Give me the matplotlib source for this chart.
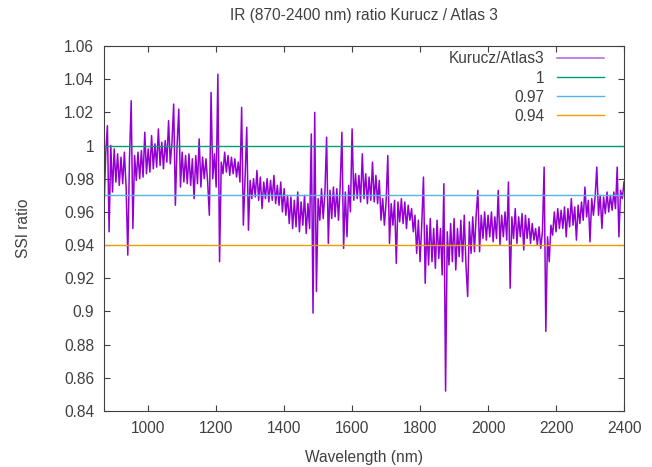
import numpy as np
import matplotlib
matplotlib.use("Agg")
import matplotlib.pyplot as plt

# ratio Kurucz / Atlas3, every 5 nm from 870 to 2400 nm
ratio = [
    0.962, 0.995, 1.012, 0.948, 1.000, 0.972, 0.998, 0.978, 0.995, 0.976,
    0.993, 0.977, 0.996, 0.975, 0.934, 0.992, 1.027, 0.950, 0.994, 0.979,
    0.996, 0.980, 0.997, 0.981, 1.008, 0.983, 0.998, 0.984, 1.006, 0.986,
    1.001, 0.987, 1.010, 0.988, 1.002, 0.986, 1.003, 0.990, 1.015, 0.989,
    1.002, 1.025, 0.964, 1.000, 1.022, 0.975, 0.996, 0.978, 0.994, 0.977,
    0.995, 0.976, 0.992, 0.968, 0.994, 0.977, 1.004, 0.975, 0.993, 0.980,
    0.992, 0.978, 0.958, 1.032, 0.980, 0.995, 0.975, 1.043, 0.930, 0.990,
    0.983, 0.996, 0.984, 0.994, 0.982, 0.993, 0.983, 0.992, 0.981, 0.990,
    0.978, 1.023, 0.952, 0.980, 1.011, 0.949, 0.979, 0.968, 0.980, 0.969,
    0.985, 0.967, 0.981, 0.962, 0.978, 0.968, 0.980, 0.966, 0.979, 0.967,
    0.982, 0.965, 0.976, 0.964, 0.978, 0.960, 0.974, 0.958, 0.970, 0.953,
    0.969, 0.950, 0.967, 0.951, 0.972, 0.948, 0.966, 0.952, 0.970, 0.947,
    0.965, 0.950, 1.007, 0.899, 1.020, 0.912, 0.968, 0.955, 0.974, 0.956,
    0.972, 1.005, 0.941, 0.973, 0.956, 0.975, 0.957, 0.974, 0.955, 0.976,
    1.008, 0.938, 0.972, 0.945, 0.976, 0.960, 1.010, 0.967, 0.983, 0.968,
    0.982, 0.966, 0.995, 0.968, 0.983, 0.965, 0.981, 0.967, 0.990, 0.966,
    0.982, 0.965, 0.979, 0.955, 0.968, 0.952, 0.966, 0.994, 0.941, 0.965,
    0.952, 0.967, 0.929, 0.966, 0.954, 0.968, 0.953, 0.966, 0.950, 0.964,
    0.955, 0.962, 0.948, 0.958, 0.935, 0.955, 0.930, 0.953, 0.981, 0.917,
    0.952, 0.928, 0.956, 0.930, 0.950, 0.926, 0.955, 0.932, 0.950, 0.922,
    0.977, 0.852, 0.948, 0.928, 0.953, 0.930, 0.956, 0.925, 0.950, 0.933,
    0.955, 0.930, 0.958, 0.928, 0.909, 0.954, 0.935, 0.957, 0.936, 0.958,
    0.973, 0.936, 0.958, 0.944, 0.960, 0.943, 0.958, 0.945, 0.960, 0.942,
    0.957, 0.944, 0.973, 0.940, 0.958, 0.945, 0.960, 0.943, 0.978, 0.914,
    0.957, 0.944, 0.962, 0.941, 0.957, 0.945, 0.959, 0.937, 0.958, 0.944,
    0.956, 0.941, 0.953, 0.943, 0.950, 0.940, 0.951, 0.938, 0.948, 0.987,
    0.888, 0.945, 0.930, 0.952, 0.946, 0.960, 0.948, 0.962, 0.950, 0.961,
    0.950, 0.963, 0.945, 0.962, 0.951, 0.968, 0.952, 0.963, 0.943, 0.964,
    0.953, 0.966, 0.955, 0.975, 0.957, 0.967, 0.942, 0.968, 0.958, 0.969,
    0.987, 0.958, 0.970, 0.950, 0.969, 0.959, 0.972, 0.960, 0.970, 0.961,
    0.972, 0.962, 0.987, 0.945, 0.973, 0.968, 0.978,
]
wl = np.linspace(870, 2400, len(ratio))

ref_levels = [1.0, 0.97, 0.94]
ref_labels = ["1", "0.97", "0.94"]
ref_colors = ["#009e73", "#56b4e9", "#e69f00"]

xticks = [1000, 1200, 1400, 1600, 1800, 2000, 2200, 2400]
yticks = [0.84, 0.86, 0.88, 0.9, 0.92, 0.94, 0.96, 0.98, 1.0, 1.02, 1.04, 1.06]
ytick_labels = ["0.84", "0.86", "0.88", "0.9", "0.92", "0.94", "0.96",
                "0.98", "1", "1.02", "1.04", "1.06"]

plt.rcParams['font.family'] = ['Liberation Sans', 'DejaVu Sans']
txt = '#404040'
fs = 11.2

fig = plt.figure(figsize=(6.52, 4.67), dpi=100)
ax = fig.add_axes([104 / 652, 56 / 467, 520 / 652, 365 / 467])

ax.plot(wl, ratio, color='#9400d3', lw=1.1, label='Kurucz/Atlas3')
for lev, lab, col in zip(ref_levels, ref_labels, ref_colors):
    ax.axhline(lev, color=col, lw=1.0, label=lab)

ax.set_xlim(870, 2400)
ax.set_ylim(0.84, 1.06)
ax.set_xticks(xticks)
ax.set_yticks(yticks)
ax.set_yticklabels(ytick_labels)
ax.tick_params(direction='in', top=True, right=True, length=4,
               labelsize=fs, labelcolor=txt, color='#404040', pad=7)
for s in ax.spines.values():
    s.set_color('#404040')

ax.set_xlabel('Wavelength (nm)', fontsize=fs, color=txt, labelpad=10)
ax.set_ylabel('SSI ratio', fontsize=fs, color=txt, labelpad=24)
ax.set_title('IR (870-2400 nm) ratio Kurucz / Atlas 3', fontsize=fs,
             color=txt, pad=19)

leg = ax.legend(loc='upper right', bbox_to_anchor=(1 - 11 / 520, 1 + 4 / 365),
                frameon=False, markerfirst=False,
                fontsize=fs, handlelength=3.0, labelspacing=0.27,
                borderaxespad=0.2, handletextpad=0.8)
for t in leg.get_texts():
    t.set_color(txt)
leg.get_lines()[0].set_color('#b060e0')

fig.savefig('out.png', dpi=100)
